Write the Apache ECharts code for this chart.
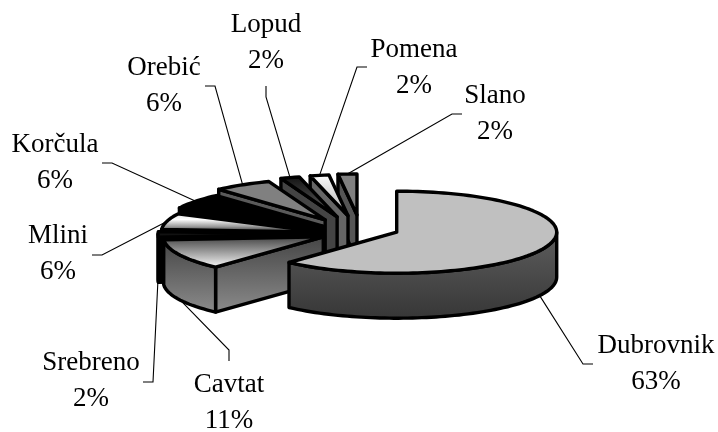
<!DOCTYPE html>
<html>
<head>
<meta charset="utf-8">
<style>html,body{margin:0;padding:0;background:#fff}#chart{width:718px;height:432px}</style>
<script src="https://cdn.jsdelivr.net/npm/echarts@6/dist/echarts.min.js"></script>
</head>
<body>
<div id="chart"></div>
<script>
// Share of visitors by destination, clockwise from twelve o'clock.
var places = ['Dubrovnik', 'Cavtat', 'Srebreno', 'Mlini', 'Korčula', 'Orebić', 'Lopud', 'Pomena', 'Slano'];
var shares = [63, 11, 2, 6, 6, 6, 2, 2, 2];

// How far each slice is pulled out of the pie.
var explode = [40, 40, 42, 40, 46, 65, 74, 64, 48];

// Centre of each two-line label, and the leader-line elbows leading to it.
var labelCentres = [[656, 364], [229, 403], [91, 381], [58, 254], [55, 163], [164, 86], [266, 43], [414, 68], [495, 114]];
var elbows = [
  [[583, 364], [593, 364]], [[229, 350], [229, 361]], [[153, 382], [143, 382]],
  [[102, 255], [92, 255]], [[112, 163], [102, 163]], [[215, 86], [205, 86]],
  [[266, 97], [266, 86]], [[357, 67], [367, 67]], [[452, 114], [462, 114]]
];

// Pie projection.
var CX = 360, CY = 231.8, RX = 160, RY = 41, DEPTH = 45, LIFT = 17, SKEW = 2.5, WARP_FRONT = 4.5, WARP_BACK = 1.5;
var DEG = Math.PI / 180;

function vgrad(stops) {
  return new echarts.graphic.LinearGradient(0, 0, 0, 1, stops.map(function (s, i) {
    return { offset: i / (stops.length - 1), color: s };
  }));
}
var topFills = [
  '#c0c0c0', vgrad(['#3a3a3a', '#ffffff']), '#111111', vgrad(['#d8d8d8', '#ffffff', '#999999', '#000000']),
  '#000000', '#808080', vgrad(['#111111', '#666666']), vgrad(['#ffffff', '#aaaaaa']), '#808080'
];
var sideFills = [
  vgrad(['#5e5e5e', '#363636']), vgrad(['#444444', '#8c8c8c']), '#000000', '#000000',
  '#000000', '#5a5a5a', '#444444', '#666666', '#555555'
];

function slices() {
  var total = shares.reduce(function (a, b) { return a + b; }, 0), from = 0;
  return shares.map(function (v, i) {
    var to = from + v / total * 360;
    var s = { index: i, from: from, to: to, mid: (from + to) / 2 };
    from = to;
    return s;
  });
}
// Projected screen angle: the tilted view shifts the rim a little towards the sides.
function view(t) {
  var w = t > 90 && t < 270 ? WARP_FRONT : WARP_BACK;
  return (t - w * Math.sin(2 * t * DEG)) * DEG;
}
// Vertical position of a slice's apex, from the direction it is pulled in.
function apexY(m) {
  var c = Math.cos(m);
  var lift = c > 0 ? -LIFT * Math.pow(c, 1.5) : LIFT * c * c;
  return CY + lift - SKEW * Math.sin(m);
}

function renderSlice(params, api) {
  var s = all[api.value(0)];
  var m = s.mid * DEG;
  var ax = CX + explode[s.index] * Math.sin(m);
  var ay = apexY(m);
  function rim(t, drop) {
    var a = view(t);
    return [ax + RX * Math.sin(a), ay - RY * Math.cos(a) + (drop || 0)];
  }
  function arc(a, b, drop) {
    var pts = [], n = Math.max(2, Math.ceil((b - a) / 2));
    for (var k = 0; k <= n; k++) pts.push(rim(a + (b - a) * k / n, drop));
    return pts;
  }
  var line = { stroke: '#000', lineWidth: 3.4, lineJoin: 'round' };
  function poly(points, fill) {
    return { type: 'polygon', shape: { points: points }, style: Object.assign({ fill: fill }, line) };
  }
  var children = [];
  var side = sideFills[s.index];

  // Cut face that turns towards the viewer: the earlier edge on the left half.
  if (s.from > 180) {
    var e = rim(s.from);
    children.push(poly([[ax, ay], e, [e[0], e[1] + DEPTH], [ax, ay + DEPTH]], side));
  }
  // Outer wall, only where the rim faces the front.
  var a0 = Math.max(s.from, 90), a1 = Math.min(s.to, 270);
  if (a1 > a0) {
    children.push(poly(arc(a0, a1).concat(arc(a0, a1, DEPTH).reverse()), side));
  }
  // Top face.
  children.push(poly([[ax, ay]].concat(arc(s.from, s.to)), topFills[s.index]));

  // Leader line from the rim to the label.
  var front = Math.cos(m) < 0;
  var start = rim(s.mid, front ? DEPTH : 0);
  children.push({
    type: 'polyline',
    shape: { points: [start].concat(elbows[s.index]) },
    style: { stroke: '#000', lineWidth: 1.1, fill: null }
  });

  // Two-line label.
  var c = labelCentres[s.index];
  children.push({
    type: 'text',
    style: {
      x: c[0], y: c[1], text: places[s.index] + '\n' + shares[s.index] + '%',
      align: 'center', verticalAlign: 'middle', lineHeight: 36,
      font: '27px "Liberation Serif"', fill: '#000'
    }
  });
  return { type: 'group', children: children };
}

var all = slices();
// Paint back to front: far slices first, the large front slice last.
var paintOrder = all.slice().sort(function (a, b) {
  return Math.abs(180 - a.mid) > Math.abs(180 - b.mid) ? -1 : 1;
}).filter(function (s) { return s.index !== 0; }).concat([all[0]]);

var chart = echarts.init(document.getElementById('chart'), null, { renderer: 'canvas' });
chart.setOption({
  animation: false,
  backgroundColor: '#fff',
  series: [{
    type: 'custom',
    coordinateSystem: 'none',
    renderItem: renderSlice,
    data: paintOrder.map(function (s) { return [s.index, shares[s.index]]; })
  }]
});
</script>
</body>
</html>
